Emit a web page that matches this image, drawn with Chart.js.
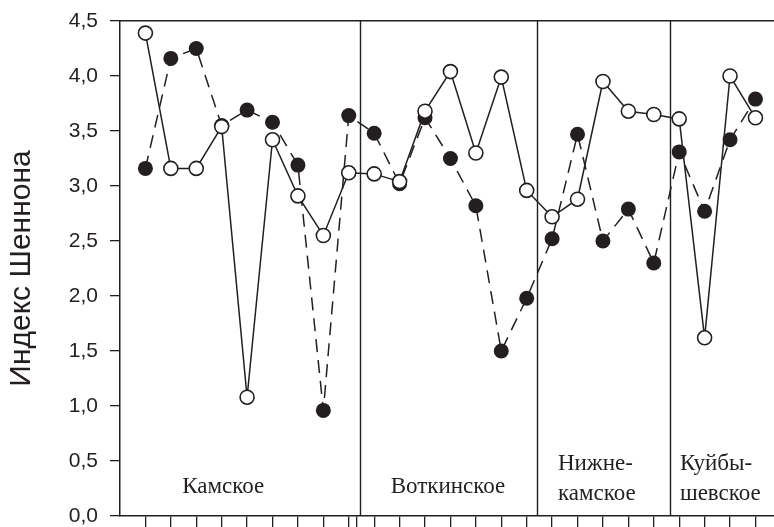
<!DOCTYPE html>
<html>
<head>
<meta charset="utf-8">
<script src="https://cdn.jsdelivr.net/npm/chart.js@4"></script>
<style>
    html, body { margin: 0; padding: 0; background: #fff; }
    #wrap { width: 774px; height: 527px; }
</style>
</head>
<body>
<div id="wrap"><canvas id="chart"></canvas></div>
<script>
// station numbers along the x axis (1..25)
const stations = [1, 2, 3, 4, 5, 6, 7, 8, 9, 10, 11, 12, 13, 14, 15, 16, 17, 18, 19, 20, 21, 22, 23, 24, 25];

// open circles, solid line
const seriesOpen = [4.39, 3.16, 3.16, 3.54, 1.08, 3.42, 2.91, 2.55, 3.12,
    3.11, 3.04, 3.68, 4.04, 3.30, 3.99, 2.96,
    2.72, 2.88, 3.95, 3.68, 3.65,
    3.61, 1.62, 4.00, 3.62];

// filled circles, dashed line
const seriesFilled = [3.16, 4.16, 4.25, 3.55, 3.69, 3.58, 3.19, 0.96, 3.64,
    3.48, 3.02, 3.62, 3.25, 2.82, 1.50, 1.98,
    2.52, 3.47, 2.50, 2.79, 2.30,
    3.31, 2.77, 3.42, 3.79];

// reservoir boundaries (x value) and names
const dividers = [9.45, 16.39, 21.63];
const reservoirs = [['Камское'], ['Воткинское'], ['Нижне-', 'камское'], ['Куйбы-', 'шевское']];

const yTicks = [0, 0.5, 1, 1.5, 2, 2.5, 3, 3.5, 4, 4.5];
const xTickExtra = [9.31];

const INK = '#231f20';

const toPoints = (vals) => vals.map((v, i) => ({ x: stations[i], y: v }));

const overlay = {
    id: 'overlay',
    afterDatasetsDraw(chart) {
        const { ctx, chartArea, scales } = chart;
        const x = scales.x, y = scales.y;
        ctx.save();
        ctx.strokeStyle = INK;
        ctx.lineWidth = 1.4;
        dividers.forEach((d) => {
            const px = Math.round(x.getPixelForValue(d)) + 0.5;
            ctx.beginPath();
            ctx.moveTo(px, chartArea.top);
            ctx.lineTo(px, chartArea.bottom);
            ctx.stroke();
        });

        // region names, left-aligned
        const anchors = [2.45, 10.65, 17.23, 22.03];
        ctx.fillStyle = INK;
        ctx.font = '23px "Liberation Serif", "Times New Roman", serif';
        ctx.textAlign = 'left';
        ctx.textBaseline = 'alphabetic';
        reservoirs.forEach((lines, i) => {
            const px = x.getPixelForValue(anchors[i]);
            if (lines.length === 1) {
                ctx.fillText(lines[0], px, y.getPixelForValue(0.21));
            } else {
                ctx.fillText(lines[0], px, y.getPixelForValue(0.42));
                ctx.fillText(lines[1], px, y.getPixelForValue(0.145));
            }
        });
        ctx.restore();
    }
};

const noSidePad = (scale) => {
    scale.paddingLeft = 0;
    scale.paddingRight = 0;
};

new Chart(document.getElementById('chart').getContext('2d'), {
    type: 'line',
    data: {
        datasets: [
            {
                label: 'open',
                data: toPoints(seriesOpen),
                borderColor: INK,
                borderWidth: 1.5,
                pointRadius: 7,
                pointBorderWidth: 1.6,
                pointBackgroundColor: '#fff',
                pointBorderColor: INK,
                tension: 0,
            },
            {
                label: 'filled',
                data: toPoints(seriesFilled),
                borderColor: INK,
                borderWidth: 1.5,
                borderDash: [13, 8],
                pointRadius: 7.5,
                pointBorderWidth: 0,
                pointBackgroundColor: INK,
                pointBorderColor: INK,
                tension: 0,
            },
        ],
    },
    options: {
        responsive: true,
        maintainAspectRatio: false,
        animation: false,
        layout: {
            autoPadding: false,
            padding: { top: 21, right: 0, bottom: 0, left: 0 },
        },
        plugins: {
            legend: { display: false },
            tooltip: { enabled: false },
        },
        scales: {
            x: {
                type: 'linear',
                min: 0,
                max: 25.73,
                afterBuildTicks: (scale) => {
                    scale.ticks = stations.concat(xTickExtra).map((v) => ({ value: v }));
                },
                afterFit: (scale) => {
                    scale.height = 11;
                    noSidePad(scale);
                },
                ticks: { display: false },
                grid: {
                    drawOnChartArea: false,
                    tickLength: 11,
                    color: INK,
                    lineWidth: 1.3,
                },
                border: { display: true, color: INK, width: 1.5 },
            },
            xTop: {
                type: 'linear',
                position: 'top',
                min: 0,
                max: 25.73,
                afterFit: (scale) => {
                    scale.height = 0;
                    noSidePad(scale);
                },
                ticks: { display: false },
                grid: { display: false },
                border: { display: true, color: INK, width: 1.5 },
            },
            y: {
                min: 0,
                max: 4.5,
                afterBuildTicks: (scale) => {
                    scale.ticks = yTicks.map((v) => ({ value: v }));
                },
                afterFit: (scale) => {
                    scale.width = 120;
                    scale.paddingTop = 0;
                    scale.paddingBottom = 0;
                },
                ticks: {
                    padding: 12,
                    color: INK,
                    font: { family: '"Liberation Sans", Arial, sans-serif', size: 21 },
                    callback: (v) => v.toFixed(1).replace('.', ','),
                },
                grid: {
                    drawOnChartArea: false,
                    tickLength: 10,
                    color: INK,
                    lineWidth: 1.3,
                },
                border: { display: true, color: INK, width: 1.5 },
                title: {
                    display: true,
                    text: 'Индекс Шеннона',
                    color: INK,
                    font: { family: '"Liberation Sans", Arial, sans-serif', size: 30, weight: 'normal' },
                    padding: { top: 4, bottom: 0 },
                },
            },
        },
    },
    plugins: [overlay],
});
</script>
</body>
</html>
